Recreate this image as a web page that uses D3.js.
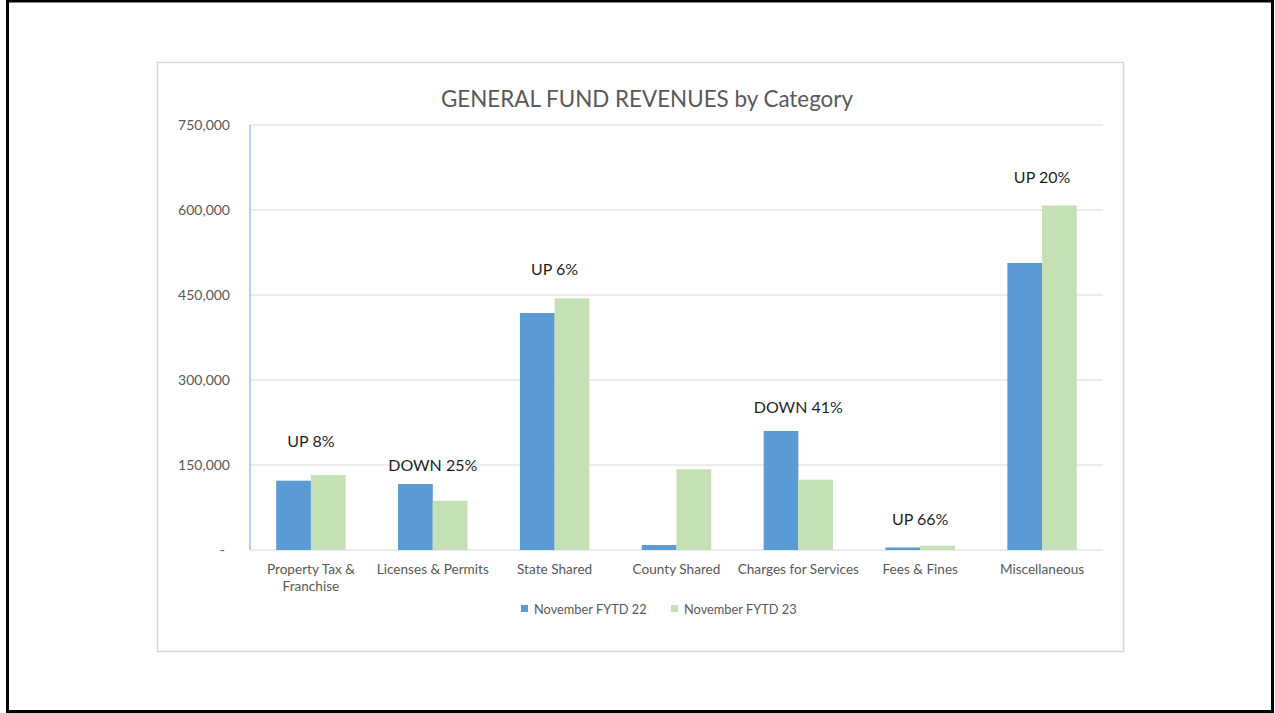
<!DOCTYPE html>
<html>
<head>
	<meta charset="utf-8">
	<style>
		body { margin: 0; background: white; }
		text { font-family: Lato, "Open Sans", sans-serif; }
		.yAxis path, .yAxis line { display: none; }
		.yAxis text { fill: #595959; font-size: 14px; }
	</style>
	<title>General Fund Revenues by Category</title>
</head>
<body>
	<script src="https://cdn.jsdelivr.net/npm/d3@7/dist/d3.min.js"></script>
	<script>
	// Revenue categories (line break where the label wraps)
	var categories = ["Property Tax &\nFranchise", "Licenses & Permits", "State Shared",
	                  "County Shared", "Charges for Services", "Fees & Fines", "Miscellaneous"];
	var seriesNames = ["November FYTD 22", "November FYTD 23"];
	var fytd22 = [122300, 116500, 418200,   8800, 210000, 4500, 506500];
	var fytd23 = [132300,  86900, 444000, 142400, 124100, 7500, 608000];
	// Change notes over each category and the value level they sit at
	var notes      = ["UP 8%", "DOWN 25%", "UP 6%", "", "DOWN 41%", "UP 66%", "UP 20%"];
	var noteLevels = [192000, 150000, 496000, 0, 252000, 54500, 658000];
	var yTicks = [0, 150000, 300000, 450000, 600000, 750000];

	var colors = ["#5b9bd5", "#c5e0b4"];

	var svg = d3.select("body")
	            .append("svg")
	            .attr("width", 1275)
	            .attr("height", 713);

	// outer frame of the slide
	svg.append("rect")
	   .attr("x", 7.5).attr("y", 1)
	   .attr("width", 1265).attr("height", 710.5)
	   .style("fill", "white")
	   .style("stroke", "black")
	   .style("stroke-width", 3);

	// chart frame
	svg.append("rect")
	   .attr("x", 157.5).attr("y", 62.5)
	   .attr("width", 966).attr("height", 589)
	   .style("fill", "white")
	   .style("stroke", "#d9d9d9")
	   .style("stroke-width", 1.5);

	var xScale = d3.scaleBand()
	               .domain(categories)
	               .range([250, 1103])
	               .paddingInner(0.43)
	               .paddingOuter(0.215);

	var xInner = d3.scaleBand()
	               .domain([0, 1])
	               .range([0, xScale.bandwidth()]);

	var yScale = d3.scaleLinear()
	               .domain([0, 750000])
	               .range([550, 125]);

	// gridlines
	svg.selectAll("line.grid")
	   .data(yTicks)
	   .enter()
	   .append("line")
	   .attr("class", "grid")
	   .attr("x1", 250).attr("x2", 1103)
	   .attr("y1", function(d){ return yScale(d); })
	   .attr("y2", function(d){ return yScale(d); })
	   .style("stroke", "#d9d9d9")
	   .style("stroke-width", 1.2);

	// y axis labels
	var yAxis = d3.axisLeft(yScale)
	              .tickValues(yTicks)
	              .tickSize(0)
	              .tickPadding(20)
	              .tickFormat(function(d){ return d === 0 ? "-" : d3.format(",")(d); });
	var yg = svg.append("g")
	   .attr("class", "yAxis")
	   .attr("transform", "translate(250,0)")
	   .call(yAxis);
	yg.selectAll("text")
	  .filter(function(d){ return d === 0; })
	  .attr("dx", -5);

	// bars
	var groups = svg.selectAll("g.cat")
	   .data(categories)
	   .enter()
	   .append("g")
	   .attr("class", "cat")
	   .attr("transform", function(d){ return "translate(" + xScale(d) + ",0)"; });

	groups.selectAll("rect")
	   .data(function(d, i){ return [fytd22[i], fytd23[i]]; })
	   .enter()
	   .append("rect")
	   .attr("x", function(d, j){ return xInner(j); })
	   .attr("y", function(d){ return yScale(d); })
	   .attr("width", xInner.bandwidth())
	   .attr("height", function(d){ return 550 - yScale(d); })
	   .style("fill", function(d, j){ return colors[j]; });

	// y axis line (light blue)
	svg.append("line")
	   .attr("x1", 250).attr("x2", 250)
	   .attr("y1", yScale(750000)).attr("y2", yScale(0))
	   .style("stroke", "#9dc3e6")
	   .style("stroke-width", 1.5);

	// category labels
	svg.selectAll("text.cat")
	   .data(categories)
	   .enter()
	   .append("text")
	   .attr("class", "cat")
	   .attr("x", function(d){ return xScale(d) + xScale.bandwidth() / 2; })
	   .attr("y", 574)
	   .style("text-anchor", "middle")
	   .style("fill", "#595959")
	   .style("font-size", "13.6px")
	   .selectAll("tspan")
	   .data(function(d){ return d.split("\n"); })
	   .enter()
	   .append("tspan")
	   .attr("x", function(){ var p = this.parentNode.__data__; return xScale(p) + xScale.bandwidth() / 2; })
	   .attr("dy", function(d, i){ return i === 0 ? 0 : 17; })
	   .text(function(d){ return d; });

	// change notes
	svg.selectAll("text.note")
	   .data(categories)
	   .enter()
	   .append("text")
	   .attr("class", "note")
	   .attr("x", function(d){ return xScale(d) + xScale.bandwidth() / 2; })
	   .attr("y", function(d, i){ return yScale(noteLevels[i]) + 6; })
	   .style("text-anchor", "middle")
	   .style("fill", "#1f1f1f")
	   .style("font-size", "16px")
	   .text(function(d, i){ return notes[i]; });

	// title
	svg.append("text")
	   .attr("x", 647)
	   .attr("y", 107)
	   .style("text-anchor", "middle")
	   .style("fill", "#595959")
	   .style("font-size", "22.4px")
	   .text("GENERAL FUND REVENUES by Category");

	// legend
	var legendX = [521, 671];
	seriesNames.forEach(function(name, j){
		svg.append("rect")
		   .attr("x", legendX[j]).attr("y", 605)
		   .attr("width", 7).attr("height", 7)
		   .style("fill", colors[j]);
		svg.append("text")
		   .attr("x", legendX[j] + 13)
		   .attr("y", 613.5)
		   .style("fill", "#595959")
		   .style("font-size", "12.8px")
		   .text(name);
	});
	</script>
</body>
</html>
